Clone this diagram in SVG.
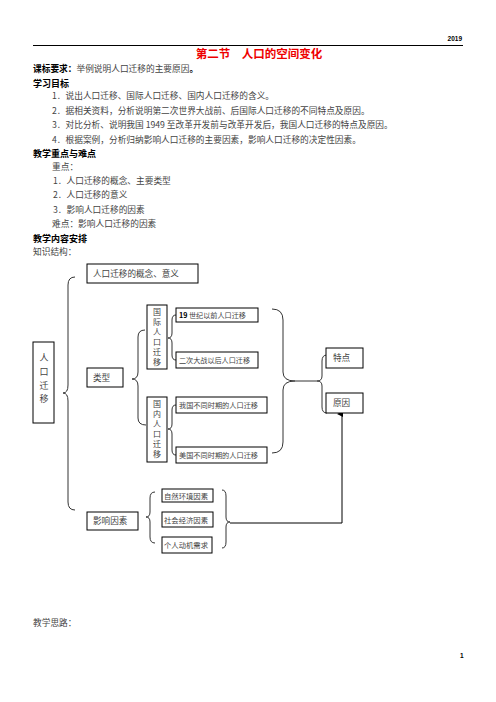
<svg xmlns="http://www.w3.org/2000/svg" width="496" height="702" viewBox="0 0 496 702">
<style>
text{font-family:"Noto Sans CJK SC","Liberation Sans",sans-serif;fill:#444;}
.b{font-weight:bold;fill:#000;}
.t{font-size:8.7px;}
.h{font-size:9px;font-weight:bold;fill:#000;}
.bx{fill:#fff;stroke:#000;stroke-width:1;}
.br{fill:none;stroke:#333;stroke-width:1;}
.s{font-size:7.3px;}
.m{font-size:8.6px;}
.v{font-size:9px;text-anchor:middle;}
.v2{font-size:8px;text-anchor:middle;}
</style>
<defs>
<marker id="ah" markerWidth="6" markerHeight="6" refX="3" refY="5" orient="auto-start-reverse" markerUnits="userSpaceOnUse"><path d="M0,6 L3,0 L6,6 Z" fill="#000"/></marker>
</defs>
<rect width="496" height="702" fill="#fff"/>
<text x="462" y="41" text-anchor="end" style="font-size:6.5px;font-family:'Liberation Sans',sans-serif;font-weight:bold;fill:#000">2019</text>
<line x1="33" y1="45.5" x2="463" y2="45.5" stroke="#000" stroke-width="1"/>
<text x="259" y="58" text-anchor="middle" style="font-size:11.5px;font-weight:bold;fill:#e00">第二节　人口的空间变化</text>
<text x="33" y="72" class="t"><tspan class="b">课标要求：</tspan>举例说明人口迁移的主要原因<tspan class="b">。</tspan></text>
<text x="33" y="87" class="h">学习目标</text>
<text x="52" y="99" class="t">1．说出人口迁移、国际人口迁移、国内人口迁移的含义。</text>
<text x="52" y="114" class="t">2．据相关资料，分析说明第二次世界大战前、后国际人口迁移的不同特点及原因。</text>
<text x="52" y="128" class="t">3．对比分析、说明我国 1949 至改革开发前与改革开发后，我国人口迁移的特点及原因。</text>
<text x="52" y="143" class="t">4．根据案例，分析归纳影响人口迁移的主要因素，影响人口迁移的决定性因素。</text>
<text x="33" y="157" class="h">教学重点与难点</text>
<text x="52" y="170" class="t">重点：</text>
<text x="53" y="184" class="t">1．人口迁移的概念、主要类型</text>
<text x="53" y="198" class="t">2．人口迁移的意义</text>
<text x="53" y="213" class="t">3．影响人口迁移的因素</text>
<text x="52" y="227" class="t">难点：影响人口迁移的因素</text>
<text x="33" y="242" class="h">教学内容安排</text>
<text x="33" y="255" class="t">知识结构：</text>

<g id="connectors">
<path class="br" d="M75,277 Q68,277 68,285 L68,385 Q68,393 63,393 Q68,393 68,401 L68,502 Q68,510 75,510"/>
<path class="br" d="M145,330 Q138,330 138,337 L138,372 Q138,379 132,379 Q138,379 138,386 L138,418 Q138,425 146,425"/>
<path class="br" d="M176,315 Q172,315 172,320 L172,333 Q172,338 168,338 Q172,338 172,343 L172,355 Q172,360 176,360"/>
<path class="br" d="M176,405 Q172,405 172,410 L172,424 Q172,429 168,429 Q172,429 172,434 L172,450 Q172,455 176,455"/>
<path class="br" d="M272,309 Q283,309 283,320 L283,372 Q283,381 295,381 Q283,381 283,390 L283,442 Q283,453 272,453"/>
<line class="br" x1="295" y1="381" x2="317" y2="381"/>
<path class="br" d="M327,355 Q322,355 322,361 L322,376 Q322,381 317,381 Q322,381 322,386 L322,407 Q322,413 327,413"/>
<path class="br" d="M155,492 Q150,492 150,498 L150,512 Q150,517 146,517 Q150,517 150,522 L150,537 Q150,543 155,543"/>
<path class="br" d="M222,490 Q226,490 226,496 L226,517 Q226,522 230,522 Q226,522 226,527 L226,542 Q226,548 222,548"/>
<path d="M230,523 L342,523 L342,414" fill="none" stroke="#000" stroke-width="1" marker-end="url(#ah)"/>
</g>

<g id="n-concept"><rect class="bx" x="87" y="264" width="111" height="19"/><text x="93" y="277" class="m">人口迁移的概念、意义</text></g>
<g id="n-root"><rect class="bx" x="33" y="342" width="21" height="81"/>
<text class="v" x="44" y="361">人</text><text class="v" x="44" y="375">口</text><text class="v" x="44" y="389">迁</text><text class="v" x="44" y="402">移</text></g>
<g id="n-type"><rect class="bx" x="87" y="368" width="36" height="19"/><text x="93" y="381" class="m">类型</text></g>
<g id="n-intl"><rect class="bx" x="147" y="305" width="20" height="64"/>
<text class="v2" x="157" y="314.5">国</text><text class="v2" x="157" y="324.5">际</text><text class="v2" x="157" y="334.5">人</text><text class="v2" x="157" y="344.5">口</text><text class="v2" x="157" y="354.5">迁</text><text class="v2" x="157" y="364.5">移</text></g>
<g id="n-dom"><rect class="bx" x="147" y="397" width="20" height="65"/>
<text class="v2" x="157" y="406.5">国</text><text class="v2" x="157" y="416.5">内</text><text class="v2" x="157" y="426.5">人</text><text class="v2" x="157" y="436.5">口</text><text class="v2" x="157" y="446.5">迁</text><text class="v2" x="157" y="456.5">移</text></g>
<g id="n-19"><rect class="bx" x="176" y="308" width="82" height="14"/><text x="179" y="318" class="s" textLength="67" lengthAdjust="spacingAndGlyphs"><tspan style="font-weight:bold;fill:#000">19</tspan> 世纪以前人口迁移</text></g>
<g id="n-ww2"><rect class="bx" x="176" y="352" width="82" height="16"/><text x="179" y="363" class="s" textLength="71" lengthAdjust="spacingAndGlyphs">二次大战以后人口迁移</text></g>
<g id="n-cn"><rect class="bx" x="176" y="397" width="91" height="16"/><text x="179" y="408" class="s" textLength="79" lengthAdjust="spacingAndGlyphs">我国不同时期的人口迁移</text></g>
<g id="n-us"><rect class="bx" x="176" y="447" width="91" height="16"/><text x="179" y="458" class="s" textLength="79" lengthAdjust="spacingAndGlyphs">美国不同时期的人口迁移</text></g>
<g id="n-feat"><rect class="bx" x="326" y="348" width="37" height="20"/><text x="333" y="361" class="m">特点</text></g>
<g id="n-cause"><rect class="bx" x="326" y="393" width="37" height="20"/><text x="333" y="406" class="m">原因</text></g>
<g id="n-factor"><rect class="bx" x="87" y="512" width="51" height="18"/><text x="93" y="524" class="m">影响因素</text></g>
<g id="n-nat"><rect class="bx" x="162" y="489" width="51" height="13"/><text x="164" y="499" class="s" textLength="44" lengthAdjust="spacingAndGlyphs">自然环境因素</text></g>
<g id="n-soc"><rect class="bx" x="162" y="512" width="51" height="15"/><text x="164" y="523" class="s" textLength="44" lengthAdjust="spacingAndGlyphs">社会经济因素</text></g>
<g id="n-per"><rect class="bx" x="162" y="537" width="50" height="16"/><text x="164" y="548" class="s" textLength="44" lengthAdjust="spacingAndGlyphs">个人动机需求</text></g>

<text x="33" y="626" class="t">教学思路：</text>
<text x="460" y="658" style="font-size:6.5px;font-family:'Liberation Sans',sans-serif;font-weight:bold;fill:#000">1</text>
</svg>
